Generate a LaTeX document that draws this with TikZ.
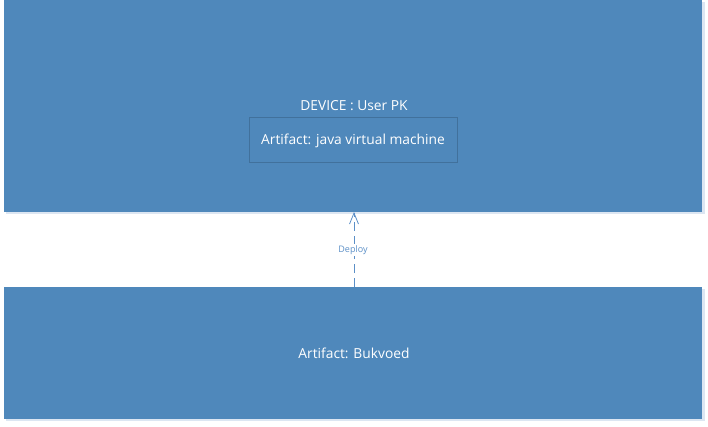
\documentclass[tikz,border=0pt]{standalone}
\usepackage{fontspec}
\setmainfont{Open Sans}
\usetikzlibrary{arrows.meta}
\definecolor{boxblue}{HTML}{4F88BB}
\definecolor{boxedge}{HTML}{41719C}
\definecolor{shadowblue}{HTML}{DCE6F2}
\definecolor{linkblue}{HTML}{5B8FC7}
\begin{document}
\begin{tikzpicture}[x=1pt,y=-1pt,
  lbl/.style={text=white,font=\fontsize{13.8}{16}\selectfont,inner sep=0pt},
  artbox/.style={draw=boxedge,fill=boxblue,line width=0.8pt},
  deploy/.style={draw=linkblue,line width=0.8pt,dash pattern=on 9pt off 5pt,-{Straight Barb[length=11pt,width=9pt]}}]
\useasboundingbox (0,0) rectangle (708,427);
% shadows
\fill[shadowblue] (6,2) rectangle (705,214);
\fill[shadowblue] (6,289) rectangle (705,421);
\fill[boxblue] (4,0) rectangle (702,212);
\fill[boxblue] (4,287) rectangle (702,419);
\coordinate (topbot) at (354,212);
\coordinate (bottop) at (354,287);
\node[lbl] (dev) at (354,106) {DEVICE : User PK};
\draw[artbox] (249,117) rectangle (457,162);
\node[lbl] (jvm) at (353,141) {Artifact: java virtual machine};
\node[lbl] (buk) at (354,353) {Artifact: Bukvoed};
\draw[deploy] (bottop) -- (topbot);
\node[text=linkblue,font=\fontsize{9}{11}\selectfont,fill=white,inner sep=1pt] (dep) at (353,250) {Deploy};
\end{tikzpicture}
\end{document}
